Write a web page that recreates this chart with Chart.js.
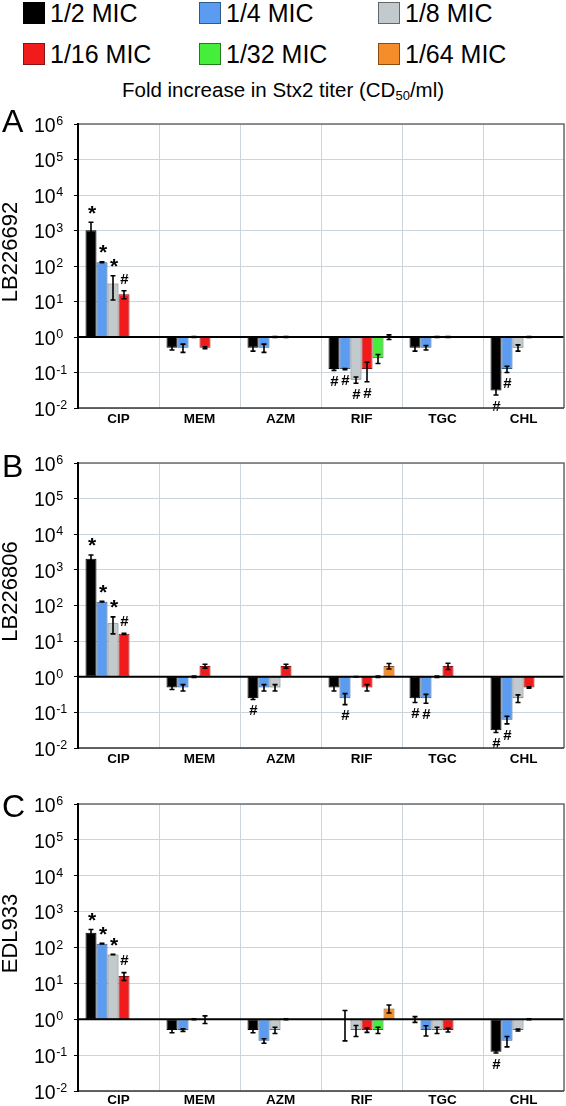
<!DOCTYPE html>
<html><head><meta charset="utf-8">
<script src="https://cdn.jsdelivr.net/npm/chart.js@4.4.0/dist/chart.umd.min.js"></script>
<style>
html,body{margin:0;padding:0;background:#fff;}
body{width:566px;height:1106px;position:relative;overflow:hidden;font-family:"Liberation Sans",Arial,sans-serif;}
.sw{position:absolute;width:20px;height:20px;border:1px solid #555;box-sizing:content-box;}
.lt{position:absolute;font-size:25px;line-height:25px;color:#000;white-space:nowrap;}
canvas{position:absolute;left:0;}
#sub{position:absolute;left:0;width:566px;text-align:center;top:80px;font-size:20.5px;line-height:20.5px;color:#000;white-space:nowrap;}
#sub sub{font-size:13px;vertical-align:-3px;line-height:0;}
</style></head><body>
<div id="legend"></div>
<div id="sub">Fold increase in Stx2 titer (CD<sub>50</sub>/ml)</div>
<canvas id="cA" width="566" height="332" style="top:98px"></canvas>
<canvas id="cB" width="566" height="332" style="top:438px"></canvas>
<canvas id="cC" width="566" height="328" style="top:778px"></canvas>
<script>
// ---------- data ----------
const categories = ['CIP','MEM','AZM','RIF','TGC','CHL'];
const seriesNames = ['1/2 MIC','1/4 MIC','1/8 MIC','1/16 MIC','1/32 MIC','1/64 MIC'];
const yTickExponents = [-2,-1,0,1,2,3,4,5,6];

// Panel A: LB226692 (rows = series, columns = categories)
const valuesA = [
  [1024, 0.5, 0.5, 0.125, 0.5, 0.03125],
  [128, 0.5, 0.5, 0.125, 0.5, 0.125],
  [32, 1, 1, 0.0625, 1, 0.5],
  [16, 0.5, 1, 0.125, 1, 1],
  [null, null, null, 0.25, null, null],
  [null, null, null, 1, null, null]
];
const errorsA = [
  [680, 0.07, 0.1, 0.01, 0.1, 0.008],
  [4, 0.13, 0.13, 0.005, 0.07, 0.025],
  [21, 0.03, 0.03, 0.0125, 0.03, 0.1],
  [4, 0.03, 0.03, 0.07, 0.03, 0.03],
  [null, null, null, 0.07, null, null],
  [null, null, null, 0.15, null, null]
];
const marksA = [
  ['*','','','#','','#'],
  ['*','','','#','','#'],
  ['*','','','#','',''],
  ['#','','','#','',''],
  ['','','','','',''],
  ['','','','','','']
];

// Panel B: LB226806
const valuesB = [
  [2048, 0.5, 0.25, 0.5, 0.25, 0.03125],
  [128, 0.5, 0.5, 0.25, 0.25, 0.0625],
  [32, 1, 0.5, 1, 1, 0.25],
  [16, 2, 2, 0.5, 2, 0.5],
  [null, null, null, 1, null, null],
  [null, null, null, 2, null, null]
];
const errorsB = [
  [580, 0.06, 0.02, 0.1, 0.06, 0.004],
  [3, 0.1, 0.1, 0.085, 0.07, 0.015],
  [16, 0.04, 0.1, 0.02, 0.05, 0.06],
  [0.5, 0.25, 0.25, 0.1, 0.4, 0.02],
  [null, null, null, 0.05, null, null],
  [null, null, null, 0.35, null, null]
];
const marksB = [
  ['*','','#','','#','#'],
  ['*','','','#','#','#'],
  ['*','','','','',''],
  ['#','','','','',''],
  ['','','','','',''],
  ['','','','','','']
];

// Panel C: EDL933
const valuesC = [
  [256, 0.5, 0.5, null, 1, 0.125],
  [128, 0.5, 0.25, 1, 0.5, 0.25],
  [64, 1, 0.5, 0.5, 0.5, 0.5],
  [16, 1, 1, 0.5, 0.5, 1],
  [null, null, null, 0.5, null, null],
  [null, null, null, 2, null, null]
];
const errorsC = [
  [60, 0.08, 0.08, null, 0.18, 0.01],
  [2, 0.04, 0.035, 0.75, 0.16, 0.08],
  [1, 0.03, 0.1, 0.17, 0.1, 0.03],
  [4, 0.24, 0.03, 0.07, 0.06, 0.03],
  [null, null, null, 0.1, null, null],
  [null, null, null, 0.5, null, null]
];
const marksC = [
  ['*','','','','','#'],
  ['*','','','','',''],
  ['*','','','','',''],
  ['#','','','','',''],
  ['','','','','',''],
  ['','','','','','']
];

// ---------- styles ----------
const FONT = '"Liberation Sans", Arial, sans-serif';
const fills = ['#000000','#5b9cf0','#c3cacd','#f21b1b','#46ee3c','#f58d2a'];
const borders = ['#000000','#2f5a8e','#5f676b','#861313','#237a1c','#8a4c12'];

// ---------- legend (HTML) ----------
(function(){
  const lg = document.getElementById('legend');
  const colX = [23, 199, 378];
  const rowY = [2, 43];
  seriesNames.forEach((n,i)=>{
    const c = i%3, r = Math.floor(i/3);
    const sw = document.createElement('div');
    sw.className='sw';
    sw.style.left = colX[c]+'px'; sw.style.top = rowY[r]+'px';
    sw.style.background = fills[i];
    sw.style.borderColor = i===0 ? '#000' : borders[i];
    lg.appendChild(sw);
    const t = document.createElement('div');
    t.className='lt';
    t.style.left = (colX[c]+27)+'px'; t.style.top = (rowY[r]-1)+'px';
    t.textContent = n;
    lg.appendChild(t);
  });
})();

// ---------- decoration plugin ----------
const deco = {
  id:'deco',
  afterDatasetsDraw(chart){
    const p = chart.options.plugins.deco;
    const {ctx, chartArea:ca, scales} = chart;
    const y = scales.y;
    ctx.save();
    // zero line
    const y0 = y.getPixelForValue(1);
    ctx.strokeStyle='#000'; ctx.lineWidth=2;
    ctx.beginPath(); ctx.moveTo(ca.left, y0); ctx.lineTo(ca.right, y0); ctx.stroke();
    // error bars + marks
    p.vals.forEach((row,i)=>{
      const meta = chart.getDatasetMeta(i);
      row.forEach((v,j)=>{
        if(v==null) return;
        const e = p.errs[i][j] || 0;
        const bx = meta.data[j].x;
        const yHi = y.getPixelForValue(v+e);
        const yLo = y.getPixelForValue(Math.max(v-e, 0.002));
        ctx.strokeStyle='#000'; ctx.lineWidth=1.6;
        ctx.beginPath();
        ctx.moveTo(bx, yHi); ctx.lineTo(bx, yLo);
        ctx.moveTo(bx-2.5, yHi); ctx.lineTo(bx+2.5, yHi);
        ctx.moveTo(bx-2.5, yLo); ctx.lineTo(bx+2.5, yLo);
        ctx.stroke();
        const m = p.marks[i][j];
        if(m){
          ctx.fillStyle='#000';
          ctx.textAlign='center'; ctx.textBaseline='alphabetic';
          if(m==='*'){
            ctx.font='bold 21px '+FONT;
            const cy = (v>=1 ? yHi-14 : yLo+10);
            ctx.fillText('*', bx+1, cy+11.5);
          } else {
            ctx.font='bold 15px '+FONT;
            const cy = (v>=1 ? yHi-12.5 : yLo+10.5);
            ctx.fillText('#', bx+0.5, cy+5.3);
          }
        }
      });
    });
    // frame
    ctx.lineWidth=1.5; ctx.strokeStyle='#6f6f6f';
    ctx.beginPath();
    ctx.moveTo(ca.left, ca.top); ctx.lineTo(ca.right, ca.top); ctx.lineTo(ca.right, ca.bottom);
    ctx.stroke();
    ctx.strokeStyle='#333'; ctx.beginPath();
    ctx.moveTo(ca.left, ca.bottom); ctx.lineTo(ca.right, ca.bottom); ctx.stroke();
    ctx.strokeStyle='#000'; ctx.lineWidth=2; ctx.beginPath();
    ctx.moveTo(ca.left, ca.top-1); ctx.lineTo(ca.left, ca.bottom+1); ctx.stroke();
    // y tick labels 10^k
    ctx.fillStyle='#000'; ctx.textAlign='left'; ctx.textBaseline='alphabetic';
    yTickExponents.forEach(k=>{
      const py = y.getPixelForValue(Math.pow(10,k));
      ctx.font='19.5px '+FONT;
      const base = py + 7.8;
      ctx.fillText('10', 34, base);
      const w = ctx.measureText('10').width;
      ctx.font='12.5px '+FONT;
      ctx.fillText(String(k), 34+w+0.5, py+1);
    });
    // panel letter
    ctx.font='32px '+FONT;
    ctx.fillText(p.letter, 2, ca.top + p.letterOff);
    // y title
    ctx.save();
    ctx.translate(17, (ca.top+ca.bottom)/2 - 14);
    ctx.rotate(-Math.PI/2);
    ctx.font='22px '+FONT; ctx.textAlign='center'; ctx.textBaseline='alphabetic';
    ctx.fillText(p.title, 0, 0);
    ctx.restore();
    ctx.restore();
  }
};

function makeChart(id, vals, errs, marks, title, letter, letterOff, padTop, xH, xPad){
  const datasets = seriesNames.map((n,i)=>({
    label:n,
    data: vals[i].map(v => v==null ? null : [1, v]),
    backgroundColor: fills[i],
    borderColor: borders[i],
    borderWidth: 1,
    borderSkipped: false,
    barPercentage: 1,
    categoryPercentage: 0.815
  }));
  return new Chart(document.getElementById(id), {
    type:'bar',
    data:{labels:categories, datasets},
    options:{
      responsive:false, animation:false, devicePixelRatio:1,
      layout:{padding:{top:padTop, right:2, left:0, bottom:0}},
      plugins:{
        legend:{display:false}, tooltip:{enabled:false},
        deco:{vals, errs, marks, title, letter, letterOff}
      },
      scales:{
        x:{
          grid:{offset:true, color:'#cbd5db', lineWidth:1, drawTicks:false},
          border:{display:false},
          ticks:{font:{size:13.5, weight:'bold', family:FONT}, color:'#000', padding:xPad, maxRotation:0},
          afterFit(s){ s.height = xH; }
        },
        y:{
          type:'logarithmic', min:0.01, max:1e6,
          afterBuildTicks(s){ s.ticks = yTickExponents.map(k=>({value:Math.pow(10,k)})); },
          grid:{color:'#cbd5db', lineWidth:1, drawTicks:true, tickLength:4, tickColor:'#000'},
          border:{display:false},
          ticks:{display:false},
          afterFit(s){ s.width = 78; }
        }
      }
    },
    plugins:[deco]
  });
}

makeChart('cA', valuesA, errorsA, marksA, 'LB226692', 'A', 8, 26, 22, 3);
makeChart('cB', valuesB, errorsB, marksB, 'LB226806', 'B', 14, 25, 22, 3);
makeChart('cC', valuesC, errorsC, marksC, 'EDL933', 'C', 13, 26, 15, 1);
</script>
</body></html>
